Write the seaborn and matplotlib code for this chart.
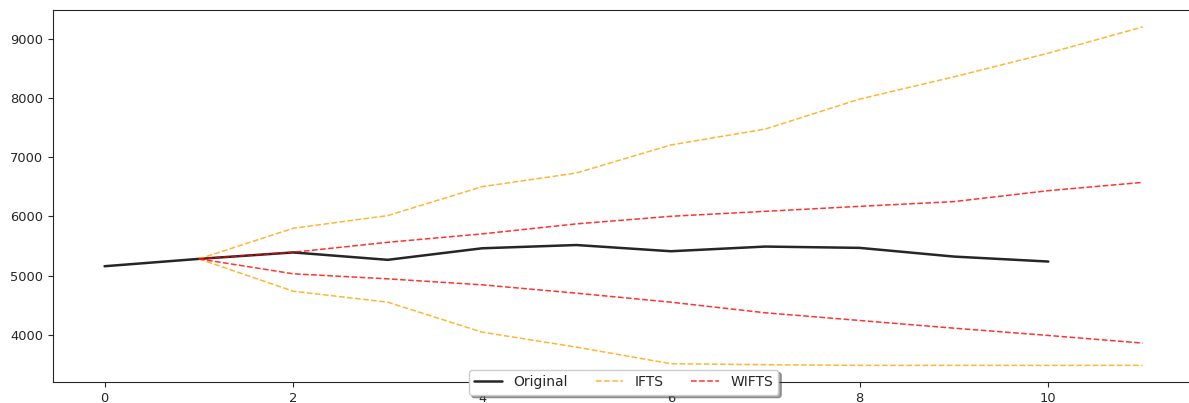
import matplotlib
matplotlib.use("Agg")
import matplotlib.pyplot as plt
import seaborn as sns

original_x = [0, 1, 2, 3, 4, 5, 6, 7, 8, 9, 10]
original = [5157, 5281, 5390, 5265, 5460, 5515, 5410, 5489, 5467, 5320, 5236]

fc_x = [1, 2, 3, 4, 5, 6, 7, 8, 9, 10, 11]
ifts_upper = [5281, 5798, 6012, 6500, 6731, 7204, 7473, 7979, 8355, 8755, 9198]
ifts_lower = [5281, 4735, 4550, 4044, 3791, 3511, 3494, 3483, 3483, 3483, 3483]
wifts_upper = [5281, 5393, 5561, 5703, 5872, 6000, 6084, 6168, 6248, 6433, 6573]
wifts_lower = [5281, 5029, 4944, 4843, 4702, 4550, 4371, 4241, 4111, 3988, 3859]

sns.set_style("ticks")
plt.rcParams["font.family"] = ["DejaVu Sans"]

fig, ax = plt.subplots(figsize=(11.89, 4.03), dpi=100)
# axes run slightly past the right edge, as in the reference
fig.subplots_adjust(left=0.0443, right=1.0047, top=0.9752, bottom=0.0514)

sns.lineplot(x=original_x, y=original, color="black", linewidth=1.8, alpha=0.85,
             label="Original", ax=ax)
sns.lineplot(x=fc_x, y=ifts_upper, color="orange", linestyle="--", linewidth=1.1,
             alpha=0.8, label="IFTS", ax=ax)
sns.lineplot(x=fc_x, y=ifts_lower, color="orange", linestyle="--", linewidth=1.1,
             alpha=0.8, ax=ax)
sns.lineplot(x=fc_x, y=wifts_upper, color="red", linestyle="--", linewidth=1.1,
             alpha=0.8, label="WIFTS", ax=ax)
sns.lineplot(x=fc_x, y=wifts_lower, color="red", linestyle="--", linewidth=1.1,
             alpha=0.8, ax=ax)

ax.tick_params(labelsize=9.4)
ax.legend(loc="center", bbox_to_anchor=(0.5, 0.0), ncol=3, shadow=True,
          fancybox=True, fontsize=10, frameon=True)

fig.savefig("out.png", dpi=100)
